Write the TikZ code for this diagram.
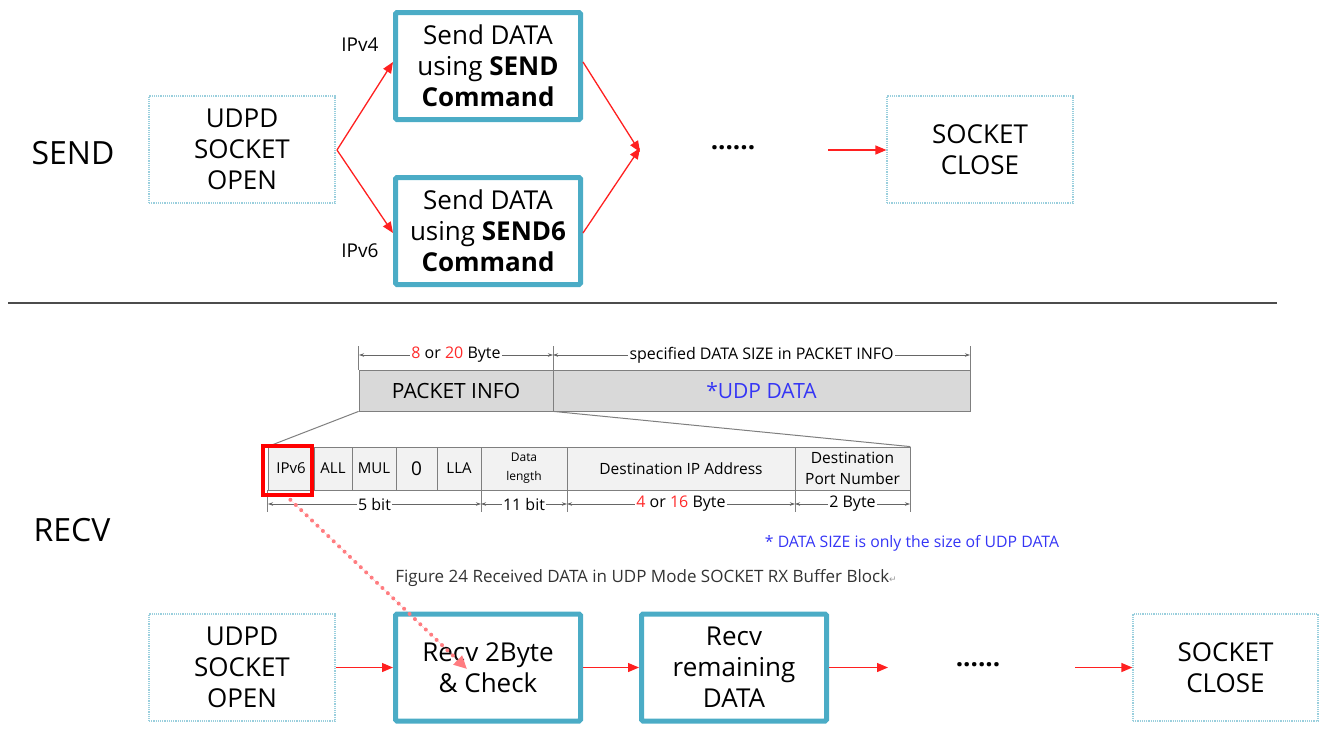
\documentclass[tikz,border=0pt]{standalone}
\usepackage{fontspec}
\setmainfont{Open Sans}
\newfontfamily\symfont{DejaVu Sans}
\usetikzlibrary{arrows.meta}

\definecolor{boxteal}{HTML}{4BACC6}
\definecolor{boxedge}{HTML}{9ACFDD}
\definecolor{flowred}{HTML}{FF2020}
\definecolor{pinkdot}{HTML}{FF7C80}
\definecolor{cellgray}{HTML}{D9D9D9}
\definecolor{fieldgray}{HTML}{F2F2F2}
\definecolor{rulegray}{HTML}{7F7F7F}
\definecolor{datablue}{HTML}{3535F5}
\definecolor{numred}{HTML}{FF2A2A}

\newcommand{\fs}[2]{\fontsize{#1}{#2}\selectfont}

\tikzset{
  plainbox/.style={draw=boxedge, densely dotted, line width=1.2pt,
    minimum width=186pt, minimum height=107pt, align=center,
    inner sep=0pt, font=\fs{26}{31}},
  tealbox/.style={draw=boxteal, line width=5pt, rounded corners=1.5pt,
    minimum width=185pt, minimum height=107pt, align=center,
    inner sep=0pt, font=\fs{26}{31}},
  flow/.style={draw=flowred, line width=1.3pt,
    -{Triangle[length=11pt,width=9pt]}},
  seclabel/.style={font=\fs{32}{36}, inner sep=0pt},
  pktcell/.style={draw=rulegray, fill=cellgray, line width=0.8pt,
    minimum height=41pt, inner sep=0pt, font=\fs{21}{23}},
  field/.style={draw=rulegray, fill=fieldgray, line width=0.8pt,
    minimum height=43pt, inner sep=0pt, align=center,
    font=\fs{15}{19}},
  dimline/.style={draw=rulegray!80!black, line width=0.7pt,
    {Stealth[length=5pt,width=3.5pt]}-{Stealth[length=5pt,width=3.5pt]}},
  tick/.style={draw=rulegray, line width=0.8pt},
  dimlabel/.style={fill=white, inner sep=1.5pt, font=\fs{16}{17}}
}

\begin{document}
\begin{tikzpicture}[x=1pt,y=-1pt]
\useasboundingbox (0,0) rectangle (1322,731);

% ---------------- SEND ----------------
\node[seclabel] (sendlbl) at (73,153) {SEND};

\node[plainbox] (open1) at (242,149.5) {UDPD\\SOCKET\\OPEN};
\node[tealbox] (s4) at (488,66) {Send DATA\\using \textbf{SEND}\\\textbf{Command}};
\node[tealbox] (s6) at (488,231) {Send DATA\\using \textbf{SEND6}\\\textbf{Command}};
\node[font=\fs{19}{21}, inner sep=0pt] (ip4) at (360,45) {IPv4};
\node[font=\fs{19}{21}, inner sep=0pt] (ip6) at (360,251) {IPv6};

\coordinate (split) at (337,150);
\coordinate (join) at (640,150);
\draw[flow] (split) -- ([yshift=4pt]s4.west);
\draw[flow] (split) -- ([yshift=-2pt]s6.west);
\draw[flow] ([yshift=4pt]s4.east) -- ([yshift=-2pt]join);
\draw[flow] ([yshift=-2pt]s6.east) -- ([yshift=2pt]join);

\node[font=\bfseries\fs{26}{30}, inner sep=0pt] (dots1) at (733,148) {......};
\coordinate (d1out) at (828,150);
\node[plainbox] (close1) at (980,149.5) {SOCKET\\CLOSE};
\draw[flow] (d1out) -- (close1.west |- d1out);

% separator
\coordinate (sepl) at (8,303);
\coordinate (sepr) at (1277,303);
\draw[line width=2pt, draw=black!70] (sepl) -- (sepr);

% ---------------- RECV ----------------
\node[seclabel] (recvlbl) at (72,530) {RECV};

% buffer block
\node[pktcell, minimum width=194pt] (pinfo) at (456,390.5) {PACKET INFO};
\node[pktcell, minimum width=417pt, text=datablue] (udp) at (761.5,390.5) {*UDP DATA};

\draw[tick] (pinfo.north west) -- ++(0,-24);
\draw[tick] (pinfo.north east) -- ++(0,-24);
\draw[tick] (udp.north east) -- ++(0,-24);
\coordinate (ta) at (359,355);
\coordinate (tb) at (553,355);
\coordinate (tc) at (970,355);
\draw[dimline] (ta) -- (tb) node[dimlabel, midway] (szinfo)
  {\textcolor{numred}{8} or \textcolor{numred}{20} Byte};
\draw[dimline] (tb) -- (tc) node[dimlabel, midway] (szdata)
  {specified DATA SIZE in PACKET INFO};

% packet info fields
\node[field, minimum width=46pt] (fipv6) at (291,468.5) {IPv6};
\node[field, minimum width=38pt] (fall) at (333,468.5) {ALL};
\node[field, minimum width=44pt] (fmul) at (374,468.5) {MUL};
\node[field, minimum width=41pt, font=\fs{19}{21}] (fzero) at (416.5,468.5) {0};
\node[field, minimum width=44pt] (flla) at (459,468.5) {LLA};
\node[field, minimum width=86pt, font=\fs{12}{19}] (fdlen) at (524,468.5) {Data\\length};
\node[field, minimum width=228pt, font=\fs{15.5}{19}] (fdip) at (681,468.5) {Destination IP Address};
\node[field, minimum width=115pt, font=\fs{15.5}{21}] (fport) at (852.5,468.5) {Destination\\Port Number};

\draw[draw=rulegray, line width=1pt] (pinfo.south west) -- (fipv6.north west);
\draw[draw=rulegray, line width=1pt] (pinfo.south east) -- (fport.north east);

\foreach \n in {fipv6.south west, flla.south east, fdlen.south east, fdip.south east, fport.south east}
  \draw[tick] (\n) -- ++(0,22);
\coordinate (ba) at (268,504);
\coordinate (bb) at (481,504);
\coordinate (bc) at (567,504);
\coordinate (bd) at (795,504);
\coordinate (be) at (910,504);
\draw[dimline] (ba) -- (bb) node[dimlabel, midway] (l5) {5 bit};
\draw[dimline] (bb) -- (bc) node[dimlabel, midway] (l11) {11 bit};
\draw[dimline] (bc) -- (bd) node[dimlabel, midway] (l416)
  {\textcolor{numred}{4} or \textcolor{numred}{16} Byte};
\draw[dimline] (bd) -- (be) node[dimlabel, midway] (l2) {2 Byte};

% highlighted flag
\node[draw=red, line width=4pt, minimum width=49pt, minimum height=49pt,
  inner sep=0pt] (sel) at (287.5,470.5) {};

\node[font=\fs{15.8}{18}, text=datablue, inner sep=0pt] (note) at (912,543)
  {* DATA SIZE is only the size of UDP DATA};
\node[font=\fs{17}{19}, text=black!80, inner sep=0pt] (caption) at (646,578)
  {Figure 24 Received DATA in UDP Mode SOCKET RX Buffer Block{\symfont\fs{9}{9}\textcolor{black!40}{↵}}};

% bottom flow
\node[plainbox] (open2) at (242,667.5) {UDPD\\SOCKET\\OPEN};
\node[tealbox] (r2b) at (488,667.5) {Recv 2Byte\\\& Check};
\node[tealbox] (rrem) at (734,667.5) {Recv\\remaining\\DATA};
\node[font=\bfseries\fs{26}{30}, inner sep=0pt] (dots2) at (978,665) {......};
\node[plainbox, minimum width=185pt] (close2) at (1225.5,667.5) {SOCKET\\CLOSE};
\coordinate (r3out) at (888,667.5);
\coordinate (d2out) at (1075,667.5);

\draw[flow] (open2.east) -- (r2b.west);
\draw[flow] (r2b.east) -- (rrem.west);
\draw[flow] (rrem.east) -- (r3out);
\draw[flow] (d2out) -- (close2.west);

% dotted pointer from the IPv6 flag to the check step
\coordinate (ptip) at (467,669);
\draw[draw=pinkdot, fill=pinkdot, line width=4pt, dash pattern=on 0pt off 7.5pt,
  line cap=round, shorten <=4pt, -{Triangle[length=13pt,width=12pt]}]
  (sel.south) -- (ptip);
\end{tikzpicture}
\end{document}
